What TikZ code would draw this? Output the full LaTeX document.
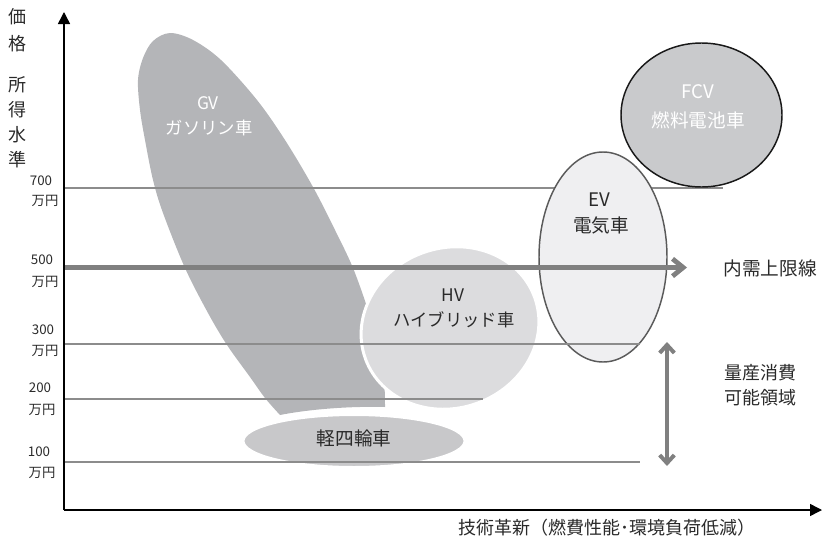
\documentclass[tikz,border=0pt]{standalone}
\usepackage{fontspec}
\setmainfont{Noto Sans CJK JP}
\usetikzlibrary{arrows.meta}
\definecolor{gvcol}{HTML}{B4B5B8}
\definecolor{hvcol}{HTML}{DCDCDE}
\definecolor{kcol}{HTML}{C8C8CA}
\definecolor{evcol}{HTML}{EFEFF1}
\definecolor{evline}{HTML}{5A5A5A}
\definecolor{fcvcol}{HTML}{C9CACC}
\definecolor{gridcol}{HTML}{8C8C8C}
\definecolor{arrcol}{HTML}{808080}
\definecolor{txt}{HTML}{2A2A2A}
\begin{document}
\begin{tikzpicture}[x=0.75pt,y=-0.75pt,
  biglabel/.style={font=\fontsize{13.5pt}{16pt}\selectfont, inner sep=0pt, text=txt},
  shapelabel/.style={font=\fontsize{13pt}{15pt}\selectfont, inner sep=0pt},
  ticklabel/.style={font=\fontsize{10pt}{12pt}\selectfont, inner sep=0pt, text=txt},
  gridline/.style={draw=gridcol, line width=1pt},
  axisline/.style={draw=black, line width=1.1pt, -{Triangle[length=9pt,width=9pt]}},
  thickarrow/.style={draw=arrcol, line width=3.6pt, -{Straight Barb[length=8pt,width=13pt]}},
  spanarrow/.style={draw=arrcol, line width=3pt, {Straight Barb[length=6pt,width=11pt]}-{Straight Barb[length=6pt,width=11pt]}},
  whiteedge/.style={draw=white, line width=2.25pt}]
\useasboundingbox (0,0) rectangle (824,543);

% GV region
\fill[gvcol] plot[smooth, tension=0.55] coordinates {(280,415) (265,398) (250,377) (227,345) (208,313) (185,268) (163,213) (153,180) (145,140) (140,110) (138,80) (143,58) (153,41) (170,33) (193,40) (221,60) (257,100) (285,140) (313,187) (335,230) (353,268) (368,310) (378,345) (384,380) (385,407)}
  .. controls (345,406) and (305,410) .. (280,415) -- cycle;

% coordinates
\coordinate (o) at (64,510);
\coordinate (ytip) at (64,12);
\coordinate (xtip) at (822,510);
\coordinate (l700a) at (64,188);   \coordinate (l700b) at (723,188);
\coordinate (l500a) at (64,267.5); \coordinate (l500b) at (687,267.5);
\coordinate (l300a) at (64,344);   \coordinate (l300b) at (640,344);
\coordinate (l200a) at (64,399);   \coordinate (l200b) at (483,399);
\coordinate (l100a) at (64,462);   \coordinate (l100b) at (640,462);
\coordinate (spantop) at (667,342);
\coordinate (spanbot) at (667,466);

\draw[gridline] (l700a) -- (l700b);

% HV
\path[fill=hvcol, whiteedge, rotate around={20:(450,328)}] (450,328) ellipse [x radius=90, y radius=80];
% kei
\path[fill=kcol, whiteedge] (354,441) ellipse [x radius=111, y radius=26.5];
% EV
\path[fill=evcol, draw=evline, line width=1.1pt] (603,257) ellipse [x radius=64, y radius=105];
% FCV
\path[fill=fcvcol, draw=black!90, line width=1.1pt] (701.5,115) ellipse [x radius=80.5, y radius=72];

\draw[gridline] (l300a) -- (l300b);
\draw[gridline] (l200a) -- (l200b);
\draw[gridline] (l100a) -- (l100b);

\draw[thickarrow] (l500a) -- (l500b);
\draw[spanarrow] (spantop) -- (spanbot);

\draw[axisline] (o) -- (ytip);
\draw[axisline] (o) -- (xtip);

% axis labels
\node[biglabel] (ka) at (17,17) {価};
\node[biglabel] (kb) at (17,44) {格};
\node[biglabel] (kc) at (17,85) {所};
\node[biglabel] (kd) at (17,110) {得};
\node[biglabel] (ke) at (17,135) {水};
\node[biglabel] (kf) at (17,160) {準};

% tick labels
\node[ticklabel] (t700) at (41,181) {700};
\node[ticklabel] (u700) at (45,201) {万円};
\node[ticklabel] (t500) at (42,260) {500};
\node[ticklabel] (u500) at (45,282) {万円};
\node[ticklabel] (t300) at (43,330) {300};
\node[ticklabel] (u300) at (45,351) {万円};
\node[ticklabel] (t200) at (40,388) {200};
\node[ticklabel] (u200) at (42,410) {万円};
\node[ticklabel] (t100) at (39,452) {100};
\node[ticklabel] (u100) at (42,473) {万円};

% shape labels
\node[shapelabel, text=white] (gv1) at (208,103) {GV};
\node[shapelabel, text=white] (gv2) at (209,128) {ガソリン車};
\node[shapelabel, text=txt] (hv1) at (453,295) {HV};
\node[shapelabel, text=txt] (hv2) at (454,320) {ハイブリッド車};
\node[shapelabel, text=txt, font=\fontsize{14pt}{16pt}\selectfont] (ev1) at (599,200) {EV};
\node[shapelabel, text=txt, font=\fontsize{14pt}{16pt}\selectfont] (ev2) at (601,225) {電気車};
\node[shapelabel, text=white, font=\fontsize{14pt}{16pt}\selectfont] (fcv1) at (698,92) {FCV};
\node[shapelabel, text=white, font=\fontsize{14pt}{16pt}\selectfont] (fcv2) at (698,120) {燃料電池車};
\node[shapelabel, text=txt, font=\fontsize{14pt}{16pt}\selectfont] (kei) at (354,438) {軽四輪車};

% right labels
\node[biglabel, font=\fontsize{14pt}{16pt}\selectfont] (naiju) at (770,268) {内需上限線};
\node[biglabel] (ryo1) at (760,373) {量産消費};
\node[biglabel] (ryo2) at (760,398) {可能領域};
\node[biglabel] (xlab) at (607,528) {技術革新（燃費性能･環境負荷低減）};
\end{tikzpicture}
\end{document}
